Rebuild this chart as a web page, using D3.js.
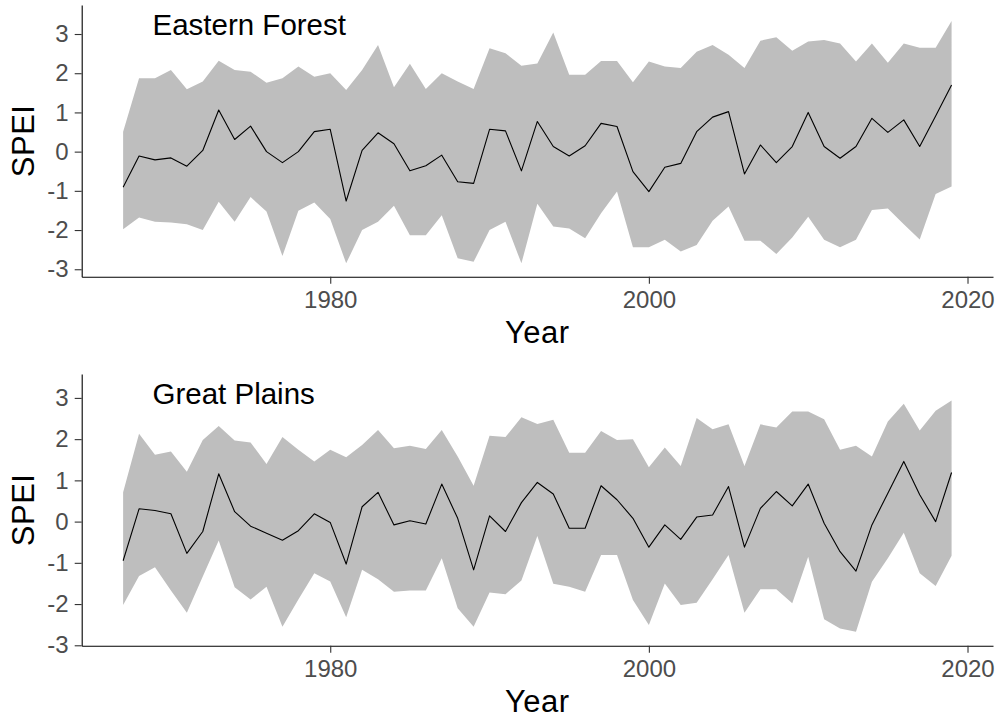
<!DOCTYPE html>
<html>
<head>
<meta charset="utf-8">
<script src="https://cdn.jsdelivr.net/npm/d3@7"></script>
<style>
  html, body { margin: 0; padding: 0; background: #fff; }
  svg { display: block; font-family: "Liberation Sans", Arial, sans-serif; }
</style>
</head>
<body>
<svg id="chart" width="1003" height="721"></svg>
<script>
// Annual SPEI, 1967-2019: ensemble mean with its lower/upper envelope, per region
const years = d3.range(1967, 2020);

const efMean = [-0.91, -0.11, -0.21, -0.16, -0.37, 0.03, 1.06, 0.31, 0.65, 0.00, -0.28, 0.00, 0.51, 0.57,
  -1.26, 0.03, 0.48, 0.20, -0.49, -0.36, -0.09, -0.77, -0.81, 0.57, 0.53, -0.49, 0.77, 0.13, -0.11, 0.15, 0.72, 0.64, -0.51, -1.02,
  -0.40, -0.30, 0.51, 0.88, 1.02, -0.57, 0.17, -0.28, 0.13, 1.00, 0.13, -0.17, 0.13, 0.85, 0.49, 0.81, 0.13, 0.91, 1.70];
const efUpper = [0.51, 1.87, 1.87, 2.08, 1.59, 1.79, 2.32, 2.08, 2.04, 1.76, 1.87, 2.17, 1.91, 2.00,
  1.57, 2.08, 2.72, 1.64, 2.24, 1.60, 2.00, 1.79, 1.60, 2.64, 2.51, 2.19, 2.25, 3.04, 1.96, 1.96, 2.31, 2.31, 1.77, 2.30,
  2.17, 2.13, 2.55, 2.72, 2.47, 2.13, 2.83, 2.92, 2.57, 2.81, 2.85, 2.76, 2.30, 2.76, 2.27, 2.76, 2.65, 2.65, 3.33];
const efLower = [-1.98, -1.68, -1.79, -1.81, -1.85, -2.00, -1.28, -1.79, -1.16, -1.53, -2.66, -1.51, -1.30, -1.72,
  -2.85, -2.00, -1.79, -1.38, -2.13, -2.13, -1.62, -2.72, -2.81, -2.00, -1.79, -2.85, -1.33, -1.91, -1.96, -2.21, -1.57, -1.02, -2.44, -2.44,
  -2.25, -2.55, -2.38, -1.76, -1.40, -2.27, -2.27, -2.61, -2.19, -1.66, -2.25, -2.44, -2.25, -1.49, -1.45, -1.85, -2.24, -1.08, -0.89];

const gpMean = [-0.95, 0.31, 0.27, 0.19, -0.77, -0.24, 1.16, 0.24, -0.11, -0.28, -0.45, -0.22, 0.19, -0.02,
  -1.03, 0.36, 0.71, -0.08, 0.02, -0.06, 0.91, 0.08, -1.17, 0.14, -0.24, 0.46, 0.95, 0.67, -0.16, -0.16, 0.87, 0.53, 0.08, -0.62,
  -0.08, -0.43, 0.11, 0.16, 0.85, -0.62, 0.32, 0.73, 0.38, 0.91, -0.04, -0.73, -1.20, -0.08, 0.69, 1.46, 0.65, 0.00, 1.19];
const gpUpper = [0.71, 2.13, 1.62, 1.70, 1.21, 1.98, 2.32, 1.97, 1.92, 1.40, 2.05, 1.74, 1.46, 1.74,
  1.56, 1.86, 2.22, 1.78, 1.84, 1.76, 2.22, 1.58, 0.87, 2.08, 2.05, 2.53, 2.37, 2.47, 1.67, 1.67, 2.20, 1.98, 2.00, 1.32,
  1.80, 1.35, 2.51, 2.24, 2.36, 1.35, 2.36, 2.28, 2.67, 2.67, 2.48, 1.74, 1.84, 1.58, 2.43, 2.86, 2.21, 2.69, 2.94];
const gpLower = [-2.02, -1.32, -1.11, -1.67, -2.21, -1.33, -0.46, -1.59, -1.89, -1.58, -2.55, -1.89, -1.25, -1.45,
  -2.32, -1.17, -1.40, -1.70, -1.67, -1.67, -0.89, -2.10, -2.55, -1.72, -1.76, -1.43, -0.35, -1.51, -1.58, -1.70, -0.81, -0.81, -1.90, -2.51,
  -1.50, -2.02, -1.97, -1.40, -0.81, -2.21, -1.64, -1.64, -1.98, -0.85, -2.37, -2.59, -2.67, -1.46, -0.89, -0.27, -1.25, -1.56, -0.83];

const regionNames = ["Eastern Forest", "Great Plains"];
const yTicks = [-3, -2, -1, 0, 1, 2, 3];
const xTicks = [1980, 2000, 2020];
const xTitle = "Year";
const yTitle = "SPEI";

const panels = [
  { name: regionNames[0], mean: efMean, upper: efUpper, lower: efLower,
    yDomain: [-3.19, 3.74], top: 5, bottom: 276.7 },
  { name: regionNames[1], mean: gpMean, upper: gpUpper, lower: gpLower,
    yDomain: [-3.01, 3.58], top: 374, bottom: 645.7 }
];

const left = 81.7, right = 993;
const tickFont = 24, titleFont = 31, labelFont = 29.5;
const bandFill = "#bebebe", tickText = "#4d4d4d";

const svg = d3.select("#chart");
svg.append("rect").attr("width", 1003).attr("height", 721).attr("fill", "#fff");

const x = d3.scaleLinear().domain([1964.4, 2021.6]).range([left, right]);

panels.forEach(p => {
  const y = d3.scaleLinear().domain(p.yDomain).range([p.bottom, p.top]);
  const rows = years.map((yr, i) => ({ yr, m: p.mean[i], lo: p.lower[i], hi: p.upper[i] }));
  const g = svg.append("g");

  // envelope
  g.append("path")
    .datum(rows)
    .attr("fill", bandFill)
    .attr("d", d3.area().x(d => x(d.yr)).y0(d => y(d.lo)).y1(d => y(d.hi)));

  // mean series
  g.append("path")
    .datum(rows)
    .attr("fill", "none")
    .attr("stroke", "#000")
    .attr("stroke-width", 1.1)
    .attr("stroke-linejoin", "round")
    .attr("d", d3.line().x(d => x(d.yr)).y(d => y(d.m)));

  // axes
  const ax = g.append("g")
    .attr("transform", `translate(0,${p.bottom})`)
    .call(d3.axisBottom(x).tickValues(xTicks).tickFormat(d3.format("d"))
      .tickSize(7).tickSizeOuter(0).tickPadding(7));
  const ay = g.append("g")
    .attr("transform", `translate(${left},0)`)
    .call(d3.axisLeft(y).tickValues(yTicks).tickFormat(d => d < 0 ? "-" + Math.abs(d) : String(d))
      .tickSize(7).tickSizeOuter(0).tickPadding(6));

  [ax, ay].forEach(a => {
    a.select(".domain").attr("stroke", "#000").attr("stroke-width", 1.1);
    a.selectAll(".tick line").attr("stroke", "#333").attr("stroke-width", 1.1);
    a.selectAll(".tick text")
      .attr("fill", tickText)
      .style("font-size", tickFont + "px")
      .style("font-family", '"Liberation Sans", Arial, sans-serif');
  });

  // axis titles
  g.append("text")
    .attr("x", (left + right) / 2)
    .attr("y", p.bottom + 66.6)
    .attr("text-anchor", "middle")
    .style("font-size", titleFont + "px")
    .style("letter-spacing", "0.5px")
    .text(xTitle);
  g.append("text")
    .attr("transform", `translate(34,${(p.top + p.bottom) / 2}) rotate(-90)`)
    .attr("text-anchor", "middle")
    .style("font-size", titleFont + "px")
    .style("letter-spacing", "0.5px")
    .text(yTitle);

  // region label
  g.append("text")
    .attr("x", 152.5)
    .attr("y", p.top + 30)
    .style("font-size", labelFont + "px")
    .text(p.name);
});
</script>
</body>
</html>
